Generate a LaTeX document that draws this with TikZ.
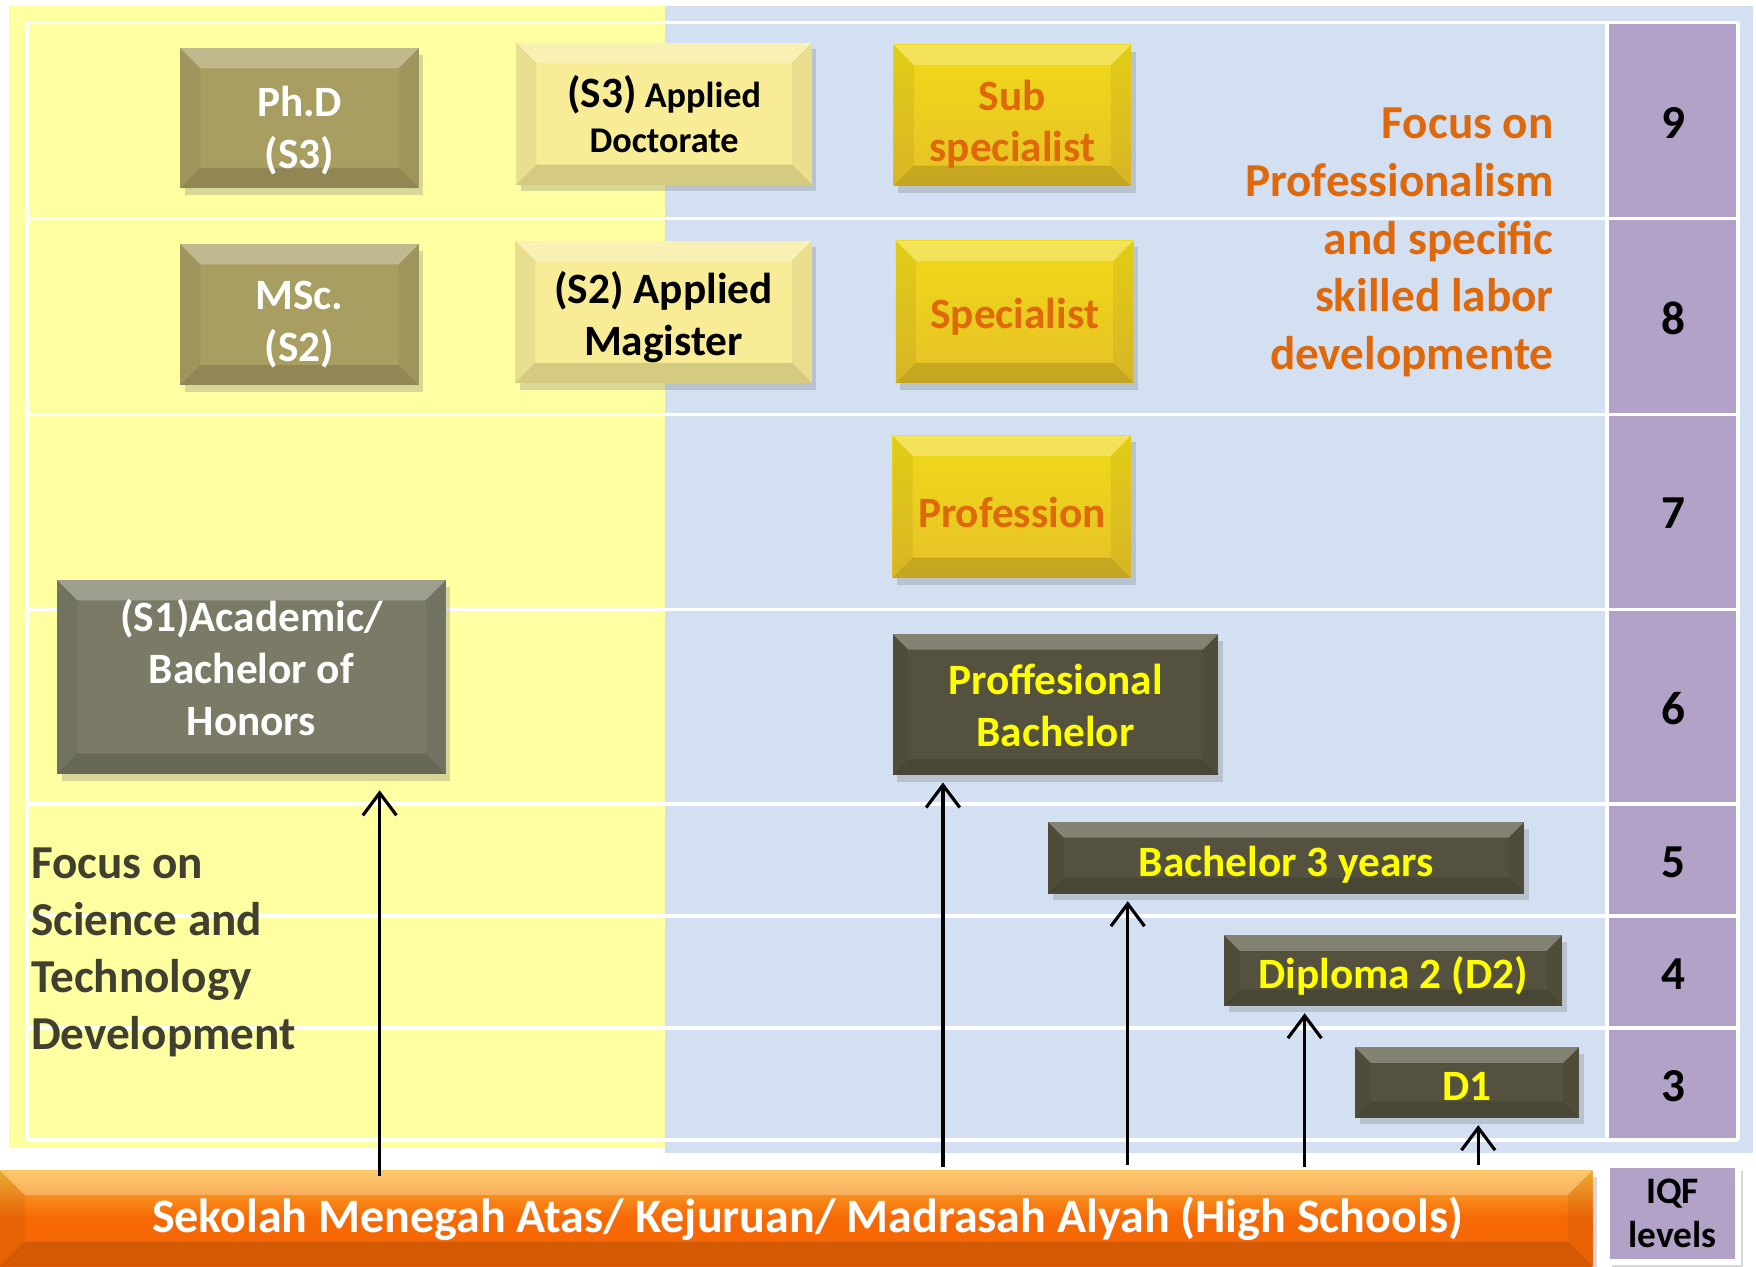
\documentclass[tikz,border=0pt]{standalone}
\usepackage{fontspec}
\setmainfont{Carlito}
\usetikzlibrary{calc,positioning,shadows,arrows.meta}
\definecolor{bgyellow}{RGB}{255,254,160}
\definecolor{bgblue}{RGB}{210,224,242}
\definecolor{lvlpurple}{RGB}{178,162,199}
\definecolor{phdolive}{RGB}{168,158,98}
\definecolor{appyellow}{RGB}{248,236,150}
\definecolor{gold}{RGB}{230,193,40}
\definecolor{acadgray}{RGB}{122,122,102}
\definecolor{darkolive}{RGB}{84,82,62}
\definecolor{txtorange}{RGB}{222,104,10}
\definecolor{txtyellow}{RGB}{255,255,0}
\definecolor{txtdark}{RGB}{64,64,48}
\definecolor{hsorange}{RGB}{246,104,6}
% invisible struts: room above the first and below the last line
\newcommand\topgap[1]{\rule{0pt}{#1}}
\newcommand\botgap[1]{\rule[-#1]{0pt}{#1}}
\tikzset{
gridline/.style={white,line width=0.3mm}, % the white table rules
bevel/.style={path picture={
  \path (path picture bounding box.north west) coordinate (pNW)
        (path picture bounding box.north east) coordinate (pNE)
        (path picture bounding box.south west) coordinate (pSW)
        (path picture bounding box.south east) coordinate (pSE);
  \fill[white,opacity=.28] (pNW) -- (pNE) -- ([shift={(-#1,-#1)}]pNE) -- ([shift={(#1,-#1)}]pNW) -- cycle;
  \fill[black,opacity=.14] (pSW) -- (pSE) -- ([shift={(-#1,#1)}]pSE) -- ([shift={(#1,#1)}]pSW) -- cycle;
  \fill[black,opacity=.06] (pNW) -- ([shift={(#1,-#1)}]pNW) -- ([shift={(#1,#1)}]pSW) -- (pSW) -- cycle;
  \fill[black,opacity=.06] (pNE) -- ([shift={(-#1,-#1)}]pNE) -- ([shift={(-#1,#1)}]pSE) -- (pSE) -- cycle;
}},
bevel/.default=1.8mm,
% single line boxes: fixes the height above and below the baseline
textpos/.style 2 args={execute at begin node={\topgap{#1}},execute at end node={\botgap{#2}}},
box/.style={rectangle,inner sep=0.5pt,align=center,bevel,
  drop shadow={opacity=.3,shadow xshift=.4mm,shadow yshift=-.6mm},
  font=\fontsize{11}{13.2}\selectfont\bfseries},
olivebox/.style={box,fill=phdolive,text=white},
lightbox/.style={box,fill=appyellow,text=black},
goldbox/.style={box,top color=gold!60!yellow,bottom color=gold,text=txtorange},
graybox/.style={box,fill=acadgray,text=white},
darkbox/.style={box,fill=darkolive,text=txtyellow,bevel=1.4mm},
lvl/.style={font=\fontsize{12}{14}\selectfont\bfseries,inner sep=0pt},
arr/.style={-{Straight Barb[length=2mm,width=3mm]},line width=0.8pt,shorten >=0.6mm},
}

\begin{document}
\begin{tikzpicture}[x=0.1mm,y=-0.1mm]
   % page and the two coloured halves
   \fill[white] (0,0) rectangle (1568,1131);
   \fill[bgyellow] (8,5) rectangle (594,1025);
   \fill[bgblue] (594,5) rectangle (1565,1030);
   \fill[lvlpurple] (1435,20) rectangle (1552,1018);
   \foreach \y in {20,195,370,544,718,818,918,1018}
      \draw[gridline] (24,\y) -- (1552,\y);
   \foreach \x in {24,1435,1552}
      \draw[gridline] (\x,20) -- (\x,1018);

   % IQF levels
   \foreach \lv/\y in {9/110,8/284,7/458,6/633,5/770,4/870,3/970}
      \node[lvl] (lvl_\lv) at (1494,\y) {\lv};

   % academic track
   \node[olivebox,minimum width=21.3mm,minimum height=12.5mm] (phd) at (267.5,105.5) {\topgap{16.5pt}Ph.D\\(S3)\botgap{4pt}};
   \node[olivebox,minimum width=21.3mm,minimum height=12.6mm] (msc) at (267.5,281) {\topgap{14.5pt}MSc.\\(S2)\botgap{4pt}};
   \node[graybox,minimum width=34.7mm,minimum height=17.3mm,font=\fontsize{11}{13.1}\selectfont\bfseries] (acad) at (224.5,604.5)
      {\topgap{10.3pt}(S1)Academic/\\Bachelor of\\Honors\botgap{7pt}};

   % applied track
   \node[lightbox,minimum width=26.4mm,minimum height=12.7mm,font=\fontsize{9.2}{11.4}\selectfont\bfseries] (s3_app) at (593,101.5) {{\fontsize{11}{11.4}\selectfont(S3)} Applied\\Doctorate};
   \node[lightbox,minimum width=26.5mm,minimum height=12.7mm] (s2_app) at (592.5,278.5) {\topgap{13.1pt}(S2) Applied\\Magister\botgap{4pt}};

   % professional track
   \node[goldbox,minimum width=21.2mm,minimum height=12.6mm] (sub_spec) at (904,103) {\topgap{14.5pt}Sub\\specialist\botgap{4pt}};
   \node[goldbox,textpos={11.9pt}{3.5pt},minimum width=21.2mm,minimum height=12.7mm] (spec) at (906,278.5) {Specialist};
   \node[goldbox,textpos={14.2pt}{3.5pt},minimum width=21.3mm,minimum height=12.7mm] (prof) at (903.5,452.5) {Profession};
   \node[darkbox,minimum width=29.1mm,minimum height=12.6mm] (prof_bach) at (942.5,629) {\topgap{12.2pt}Proffesional\\Bachelor\botgap{4pt}};
   \node[darkbox,textpos={12.8pt}{3.5pt},minimum width=42.5mm,minimum height=6.4mm] (bach_3) at (1148.5,766) {Bachelor 3 years};
   \node[darkbox,textpos={12.5pt}{3.5pt},minimum width=30.2mm,minimum height=6.3mm] (dip_2) at (1244,866.5) {Diploma 2 (D2)};
   \node[darkbox,textpos={12.5pt}{3.5pt},minimum width=20mm,minimum height=6.3mm] (dip_1) at (1310,966.5) {D1};

   % focus texts
   \node[anchor=east,align=right,inner sep=0pt,text=txtorange,font=\fontsize{12}{14.7}\selectfont\bfseries] (focus_pro) at (1388,216.5)
      {Focus on\\Professionalism\\and specific\\skilled labor\\developmente};
   \node[anchor=west,align=left,inner sep=0pt,text=txtdark,font=\fontsize{12}{14.5}\selectfont\bfseries] (focus_sci) at (27,850.5)
      {Focus on\\Science and\\Technology\\Development};

   % high schools bar and the IQF caption
   \node[box,top color=hsorange!60!yellow!80!white,bottom color=hsorange,middle color=hsorange,bevel=2.2mm,
         drop shadow={opacity=0},minimum width=142.2mm,minimum height=8.6mm,text=white,
         font=\fontsize{12.2}{14}\selectfont\bfseries] (hs) at (711,1088)
      {\hspace*{2mm}Sekolah Menegah Atas/ Kejuruan/ Madrasah Alyah (High Schools)};
   \node[rectangle,fill=lvlpurple,draw=white,line width=0.6mm,minimum width=11.7mm,minimum height=8.7mm,align=center,
         drop shadow={opacity=.3,shadow xshift=.4mm,shadow yshift=-.6mm},
         font=\fontsize{9.5}{11.4}\selectfont\bfseries] (iqf) at (1493.5,1083.5) {IQF\\levels};

   % pathways up from high school
   \coordinate (up_1) at (339,1050);
   \coordinate (up_2) at (842,1042);
   \coordinate (up_3) at (1007,1040);
   \coordinate (up_4) at (1165,1042);
   \coordinate (up_5) at (1320,1040);
   \draw[arr,shorten >=1.4mm] (up_1) -- (up_1 |- acad.south);
   \draw[arr] (up_2) -- (up_2 |- prof_bach.south);
   \draw[arr] (up_3) -- (up_3 |- bach_3.south);
   \draw[arr] (up_4) -- (up_4 |- dip_2.south);
   \draw[arr] (up_5) -- (up_5 |- dip_1.south);
\end{tikzpicture}
\end{document}
